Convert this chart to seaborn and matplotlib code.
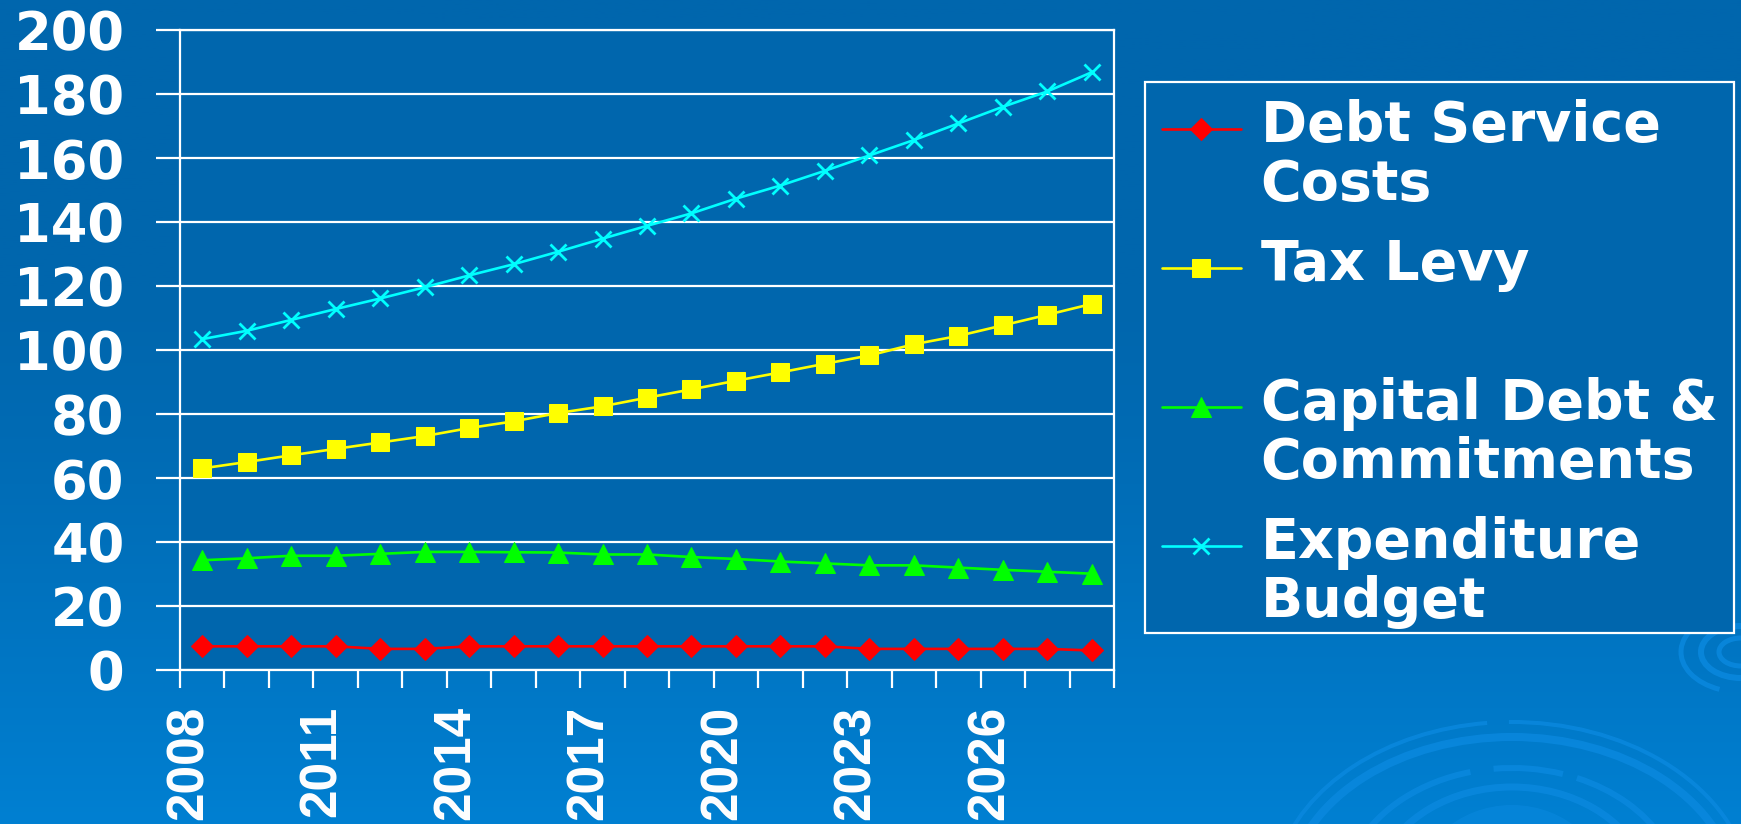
import numpy as np
import pandas as pd
import matplotlib
matplotlib.use("Agg")
import matplotlib.pyplot as plt
import matplotlib.transforms as mtransforms
from matplotlib import font_manager
from matplotlib.font_manager import FontProperties
from matplotlib.legend_handler import HandlerLine2D
from matplotlib.patches import Arc, Ellipse
from matplotlib.ticker import FixedLocator
import seaborn as sns

# ---------------- data ----------------
years = list(range(2008, 2029))
debt_service = [7.4, 7.4, 7.4, 7.4, 6.6, 6.6, 7.4, 7.4, 7.4, 7.4, 7.4,
                7.4, 7.4, 7.4, 7.4, 6.6, 6.6, 6.6, 6.6, 6.6, 6.1]
tax_levy = [63.0, 65.0, 67.1, 69.1, 71.1, 73.1, 75.6, 77.7, 80.3, 82.4, 85.1,
            87.7, 90.4, 93.0, 95.7, 98.3, 101.8, 104.4, 107.7, 111.0, 114.4]
capital_debt = [34.3, 34.9, 35.7, 35.7, 36.3, 36.9, 36.9, 36.8, 36.7, 36.1, 36.1,
                35.3, 34.7, 33.9, 33.3, 32.7, 32.7, 32.0, 31.3, 30.7, 30.1]
expenditure = [103.4, 106.0, 109.4, 112.8, 116.1, 119.6, 123.3, 126.8, 130.7, 134.8, 138.8,
               142.7, 147.3, 151.4, 156.0, 160.8, 165.6, 170.8, 176.0, 180.8, 186.8]
series_labels = ["Debt Service\nCosts", "Tax Levy\n ", "Capital Debt &\nCommitments",
                 "Expenditure\nBudget"]
year_tick_labels = [str(y) for y in range(2008, 2027, 3)]
y_ticks = list(range(0, 201, 20))

# ---------------- style ----------------
sns.set_theme(style="white")
plt.rcParams["font.family"] = ["DejaVu Sans"]


def find_bold(names):
    for nm in names:
        cands = [f for f in font_manager.fontManager.ttflist
                 if f.name == nm and f.style == "normal"
                 and (f.weight in ("bold", 700) or (isinstance(f.weight, int) and f.weight >= 600))]
        if cands:
            return nm, cands[0].fname
    return None, None


xname, xpath = find_bold(["Liberation Sans", "Arial"])
if xpath:
    xprop = FontProperties(fname=xpath, size=37)
else:
    xprop = FontProperties(family="DejaVu Sans", weight="bold", size=32)

PLOT_BG = "#0066AD"
W, H, DPI = 17.41, 8.24, 100
fig = plt.figure(figsize=(W, H), dpi=DPI)
fig.patch.set_facecolor(PLOT_BG)

# background gradient + decorative ripples (pixel coordinates of the slide)
bg = fig.add_axes([0, 0, 1, 1], zorder=-10)
t = np.linspace(0, 1, 400)[:, None]
top = np.array([0x00, 0x66, 0xAD]) / 255
bot = np.array([0x00, 0x80, 0xD2]) / 255
w = np.clip((t - 0.35) / 0.65, 0, 1) ** 1.3
grad = top[None, None, :] * (1 - w[..., None]) + bot[None, None, :] * w[..., None]
grad = np.repeat(grad, 2, axis=1)
bg.imshow(grad, aspect="auto", extent=[0, 1741, 824, 0])
bg.set_xlim(0, 1741)
bg.set_ylim(824, 0)
bg.set_axis_off()
RIP = "#0A88DE"
ripples = [  # (cx, cy, width, height, lw_px, [(theta1, theta2), ...])
    (1512, 900, 480, 356, 4, [(190, 262), (269, 352)]),
    (1512, 900, 450, 326, 8, [(186, 354)]),
    (1512, 900, 340, 264, 6, [(200, 252), (262, 292), (298, 338)]),
    (1512, 900, 280, 226, 7, [(195, 345)]),
    (1741, 652, 120, 80, 5, [(120, 250)]),
    (1741, 652, 80, 52, 6, [(90, 270)]),
    (1741, 652, 44, 28, 5, [(90, 270)]),
]
for cx, cy, ww, hh, lwpx, segs in ripples:
    for t1, t2 in segs:
        bg.add_patch(Arc((cx, cy), ww, hh, theta1=t1, theta2=t2, color=RIP,
                         lw=lwpx * 0.72, alpha=0.85))
bg.add_patch(Ellipse((1512, 900), 200, 190, color=RIP, alpha=0.6, lw=0))

ax = fig.add_axes([180 / 1741, 1 - 670 / 824, (1114 - 180) / 1741, (670 - 30) / 824])
ax.set_facecolor(PLOT_BG)

df = pd.DataFrame({"year": years, "debt": debt_service, "tax": tax_levy,
                   "cap": capital_debt, "exp": expenditure})

specs = [
    ("debt", series_labels[0], "#FF0000", "D", 11.5, dict()),
    ("tax", series_labels[1], "#FFFF00", "s", 12.5, dict()),
    ("cap", series_labels[2], "#00FF00", "^", 15, dict()),
    ("exp", series_labels[3], "#00FFFF", "x", 12, dict(markeredgewidth=2.0)),
]
for col, lab, colr, mk, ms, extra in specs:
    sns.lineplot(data=df, x="year", y=col, ax=ax, color=colr, marker=mk,
                 markersize=ms, markeredgecolor=colr, linewidth=1.9, label=lab,
                 zorder=3, **extra)

# axes
ax.set_xlim(years[0] - 0.5, years[-1] + 0.5)
ax.set_ylim(0, 200)
ax.set_xlabel("")
ax.set_ylabel("")
ax.set_yticks(y_ticks)
ax.set_yticklabels([str(v) for v in y_ticks])
ax.grid(axis="y", color="white", linewidth=1.6, zorder=1)
ax.grid(axis="x", visible=False)
ax.set_axisbelow(True)
for s in ax.spines.values():
    s.set_color("white")
    s.set_linewidth(1.6)

ax.tick_params(axis="y", which="major", left=True, length=17, width=1.6, color="white",
               pad=23, labelsize=38, labelcolor="white")
for lb in ax.get_yticklabels():
    lb.set_fontweight("bold")

ax.xaxis.set_major_locator(FixedLocator(list(range(2008, 2027, 3))))
ax.xaxis.set_minor_locator(FixedLocator([y - 0.5 for y in years] + [years[-1] + 0.5]))
ax.tick_params(axis="x", which="major", bottom=True, length=0, pad=25.5, labelcolor="white")
ax.tick_params(axis="x", which="minor", bottom=True, length=13, width=1.6, color="white")
ax.set_xticklabels(year_tick_labels, fontproperties=xprop, rotation=90)
offset = mtransforms.ScaledTranslation(-13 / DPI, 0, fig.dpi_scale_trans)
for lb in ax.get_xticklabels():
    lb.set_transform(lb.get_transform() + offset)

# legend with handle aligned to first text line
LEG_FS = 40
LS = 1.12
shift_pt = 20


class TopHandler(HandlerLine2D):
    def create_artists(self, legend, orig_handle, xdescent, ydescent, width, height,
                       fontsize, trans):
        return super().create_artists(legend, orig_handle, xdescent, ydescent - 2 * shift_pt,
                                      width, height, fontsize, trans)


handles, labels = ax.get_legend_handles_labels()
leg = ax.legend(handles, labels, loc="upper left",
                bbox_to_anchor=(1145 / 1741, 1 - 82 / 824), bbox_transform=fig.transFigure,
                borderaxespad=0, frameon=True, fancybox=False, facecolor=PLOT_BG,
                edgecolor="white", framealpha=1, prop=dict(size=LEG_FS, weight="bold"),
                handlelength=1.42, handletextpad=0.36, borderpad=0.3, labelspacing=0.47,
                handler_map={h: TopHandler() for h in handles})
leg.get_frame().set_linewidth(1.6)
for txt in leg.get_texts():
    txt.set_color("white")
    txt.set_linespacing(LS)

# trim part of the unused space at the bottom of the legend frame
_orig_set_bounds = leg.legendPatch.set_bounds
BOTTOM_TRIM = 13  # pixels


def _trimmed_bounds(*args):
    l, b, wd, ht = args[0] if len(args) == 1 else args
    _orig_set_bounds(l, b + BOTTOM_TRIM, wd, ht - BOTTOM_TRIM)


leg.legendPatch.set_bounds = _trimmed_bounds

fig.savefig("out.png", dpi=DPI, facecolor=fig.get_facecolor())
